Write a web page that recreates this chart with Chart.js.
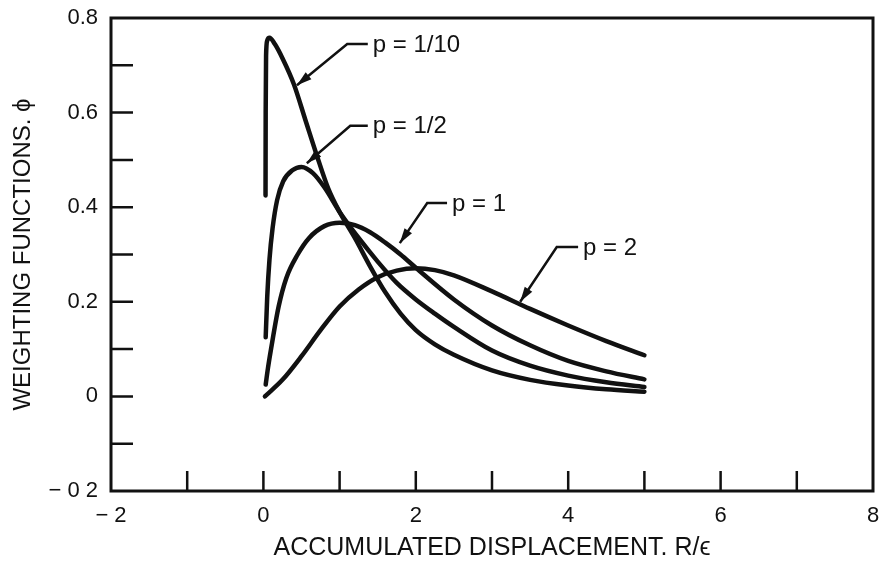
<!DOCTYPE html>
<html lang="en">
<head>
    <meta charset="UTF-8">
    <title>Weighting functions</title>
    <script src="https://cdn.jsdelivr.net/npm/chart.js"></script>
    <style>
        body {
            margin: 0;
            background: #fff;
        }
        .container {
            width: 886px;
            height: 566px;
            position: relative;
        }
    </style>
</head>
<body>

    <div class="container">
        <canvas id="phiChart"></canvas>
    </div>

    <script>
        // values
        const seriesNames = ['p = 1/10', 'p = 1/2', 'p = 1', 'p = 2'];

        const xTenth = [0.028, 0.03, 0.035, 0.05, 0.08, 0.15, 0.25, 0.4, 0.55, 0.7, 0.85, 1.0, 1.2, 1.4, 1.6, 1.8, 2.0, 2.25, 2.5, 3.0, 3.5, 4.0, 4.5, 5.0];
        const yTenth = [0.425, 0.6, 0.72, 0.752, 0.758, 0.745, 0.715, 0.66, 0.585, 0.51, 0.44, 0.39, 0.335, 0.275, 0.22, 0.175, 0.14, 0.11, 0.088, 0.055, 0.035, 0.023, 0.015, 0.01];

        const xHalf = [0.03, 0.05, 0.08, 0.12, 0.18, 0.26, 0.38, 0.5, 0.65, 0.8, 1.0, 1.25, 1.5, 1.75, 2.0, 2.25, 2.5, 3.0, 3.5, 4.0, 4.5, 5.0];
        const yHalf = [0.125, 0.21, 0.29, 0.355, 0.415, 0.455, 0.478, 0.485, 0.472, 0.442, 0.39, 0.335, 0.285, 0.24, 0.205, 0.175, 0.147, 0.097, 0.065, 0.044, 0.03, 0.02];

        const xOne = [0.03, 0.06, 0.1, 0.2, 0.3, 0.45, 0.6, 0.8, 1.0, 1.2, 1.4, 1.6, 1.8, 2.0, 2.5, 3.0, 3.5, 4.0, 4.5, 5.0];
        const yOne = [0.025, 0.06, 0.1, 0.19, 0.25, 0.3, 0.335, 0.36, 0.367, 0.362, 0.347, 0.325, 0.3, 0.272, 0.205, 0.15, 0.108, 0.075, 0.053, 0.036];

        const xTwo = [0.02, 0.25, 0.5, 0.75, 1.0, 1.25, 1.5, 1.75, 2.0, 2.25, 2.5, 3.0, 3.5, 4.0, 4.5, 5.0];
        const yTwo = [0.0, 0.035, 0.085, 0.14, 0.19, 0.226, 0.252, 0.266, 0.271, 0.267, 0.256, 0.222, 0.185, 0.15, 0.117, 0.087];

        const xTickLabels = { '-2': '\u2212 2', '0': '0', '2': '2', '4': '4', '6': '6', '8': '8' };
        const yTickLabels = { '-0.2': '\u2212 0 2', '0': '0', '0.2': '0.2', '0.4': '0.4', '0.6': '0.6', '0.8': '0.8' };

        // leader arrows: tip, elbow, end of the short horizontal, in data units
        const callouts = [
            { text: 'p = 1/10', tip: [0.44, 0.658], elbow: [1.10, 0.745], end: [1.37, 0.745] },
            { text: 'p = 1/2', tip: [0.57, 0.493], elbow: [1.14, 0.572], end: [1.37, 0.572] },
            { text: 'p = 1', tip: [1.79, 0.324], elbow: [2.15, 0.409], end: [2.41, 0.409] },
            { text: 'p = 2', tip: [3.37, 0.200], elbow: [3.85, 0.316], end: [4.13, 0.316] }
        ];

        const font = '"Liberation Sans", Arial, sans-serif';
        const ink = '#111';

        function pts(xs, ys) {
            return xs.map((x, i) => ({ x: x, y: ys[i] }));
        }

        const allX = [xTenth, xHalf, xOne, xTwo];
        const allY = [yTenth, yHalf, yOne, yTwo];

        // no extra room for overhanging tick labels, the box is set by layout padding
        function noOverhang(s) {
            s.paddingTop = 0;
            s.paddingBottom = 0;
            s.paddingLeft = 0;
            s.paddingRight = 0;
        }

        // frame, inward ticks and the labelled arrows
        const framePlugin = {
            id: 'frame',
            afterDraw(chart) {
                const ctx = chart.ctx;
                const a = chart.chartArea;
                const xs = chart.scales.x;
                const ys = chart.scales.y;
                ctx.save();
                ctx.strokeStyle = ink;
                ctx.lineWidth = 3;
                ctx.strokeRect(a.left, a.top, a.right - a.left, a.bottom - a.top);

                ctx.lineWidth = 2.5;
                ctx.beginPath();
                xs.ticks.forEach(t => {
                    if (t.value <= xs.min || t.value >= xs.max) return;
                    const px = xs.getPixelForValue(t.value);
                    ctx.moveTo(px, a.bottom);
                    ctx.lineTo(px, a.bottom - 20);
                });
                ys.ticks.forEach(t => {
                    if (t.value <= ys.min + 1e-9 || t.value >= ys.max - 1e-9) return;
                    const py = ys.getPixelForValue(t.value);
                    ctx.moveTo(a.left, py);
                    ctx.lineTo(a.left + 22, py);
                });
                ctx.stroke();

                ctx.font = '24px ' + font;
                ctx.fillStyle = ink;
                ctx.textBaseline = 'middle';
                callouts.forEach(c => {
                    const tx = xs.getPixelForValue(c.tip[0]), ty = ys.getPixelForValue(c.tip[1]);
                    const ex = xs.getPixelForValue(c.elbow[0]), ey = ys.getPixelForValue(c.elbow[1]);
                    const hx = xs.getPixelForValue(c.end[0]), hy = ys.getPixelForValue(c.end[1]);
                    ctx.lineWidth = 2.5;
                    ctx.beginPath();
                    ctx.moveTo(hx, hy);
                    ctx.lineTo(ex, ey);
                    ctx.lineTo(tx, ty);
                    ctx.stroke();
                    // arrow head
                    const ang = Math.atan2(ty - ey, tx - ex);
                    const len = 15, w = 4.5;
                    ctx.beginPath();
                    ctx.moveTo(tx, ty);
                    ctx.lineTo(tx - len * Math.cos(ang) + w * Math.sin(ang), ty - len * Math.sin(ang) - w * Math.cos(ang));
                    ctx.lineTo(tx - len * Math.cos(ang) - w * Math.sin(ang), ty - len * Math.sin(ang) + w * Math.cos(ang));
                    ctx.closePath();
                    ctx.fill();
                    ctx.fillText(c.text, hx + 5, hy + 1);
                });
                ctx.restore();
            }
        };

        new Chart(document.getElementById('phiChart'), {
            type: 'line',
            data: {
                datasets: seriesNames.map((name, i) => ({
                    label: name,
                    data: pts(allX[i], allY[i]),
                    borderColor: ink,
                    borderWidth: 4.5,
                    borderCapStyle: 'round',
                    borderJoinStyle: 'round',
                    pointRadius: 0,
                    cubicInterpolationMode: 'monotone',
                    fill: false
                }))
            },
            options: {
                responsive: true,
                maintainAspectRatio: false,
                animation: false,
                layout: { padding: { top: 18, right: 13, left: 0, bottom: 0 } },
                plugins: {
                    legend: { display: false },
                    tooltip: { enabled: false }
                },
                scales: {
                    x: {
                        type: 'linear',
                        min: -2,
                        max: 8,
                        grid: { display: false, drawTicks: false },
                        border: { display: false },
                        afterFit: s => { s.height = 75; noOverhang(s); },
                        ticks: {
                            stepSize: 1,
                            autoSkip: false,
                            maxRotation: 0,
                            padding: 12,
                            color: ink,
                            font: { family: font, size: 22 },
                            callback: v => xTickLabels[String(v)] || ''
                        },
                        title: {
                            display: true,
                            text: 'ACCUMULATED DISPLACEMENT. R/\u03f5',
                            color: ink,
                            font: { family: font, size: 25 },
                            padding: { top: 0, bottom: 3 }
                        }
                    },
                    y: {
                        min: -0.2,
                        max: 0.8,
                        grid: { display: false, drawTicks: false },
                        border: { display: false },
                        afterFit: s => { s.width = 111; noOverhang(s); },
                        ticks: {
                            stepSize: 0.1,
                            autoSkip: false,
                            padding: 13,
                            color: ink,
                            font: { family: font, size: 22 },
                            callback: v => yTickLabels[String(Math.round(v * 10) / 10)] || ''
                        },
                        title: {
                            display: true,
                            text: 'WEIGHTING FUNCTIONS. \u03d5',
                            color: ink,
                            font: { family: font, size: 24 },
                            padding: { top: 9, bottom: 0 }
                        }
                    }
                }
            },
            plugins: [framePlugin]
        });
    </script>

</body>
</html>
